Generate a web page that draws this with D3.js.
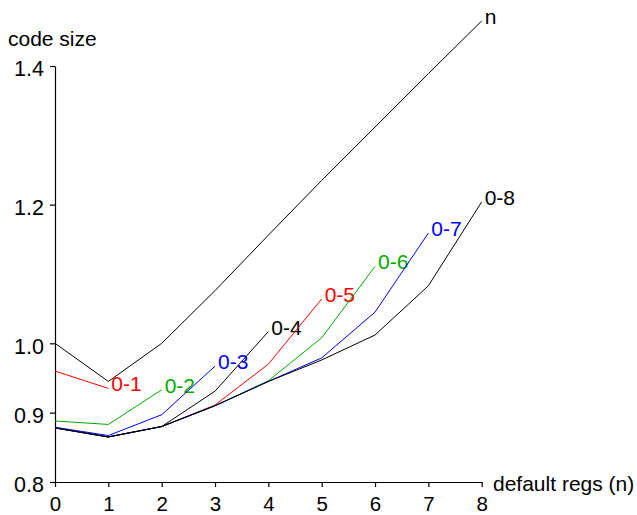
<!DOCTYPE html>
<html>
<head>
<meta charset="utf-8">
<script src="https://cdn.jsdelivr.net/npm/d3@7"></script>
<style>
  body { margin: 0; background: #fff; }
  svg { font-family: "Liberation Sans", Arial, sans-serif; }
  .axis path, .axis line { stroke: #000; stroke-width: 1.2; }
  .axis text { fill: #000; }
</style>
</head>
<body>
<div id="chart"></div>
<script>
// data
var regs = [0, 1, 2, 3, 4, 5, 6, 7, 8];
var yTicks = [0.8, 0.9, 1.0, 1.2, 1.4];

var sN  = [1.000, 0.945, 1.000, 1.076, 1.156, 1.235, 1.312, 1.389, 1.465];
var s01 = [0.960, 0.935];
var s02 = [0.888, 0.883, 0.933];
var s03 = [0.879, 0.867, 0.897, 0.967];
var s04 = [0.878, 0.865, 0.880, 0.931, 1.017];
var s05 = [0.878, 0.865, 0.880, 0.911, 0.970, 1.064];
var s06 = [0.878, 0.865, 0.880, 0.910, 0.946, 1.008, 1.111];
var s07 = [0.878, 0.865, 0.880, 0.910, 0.945, 0.979, 1.045, 1.159];
var s08 = [0.878, 0.865, 0.880, 0.910, 0.945, 0.976, 1.012, 1.083, 1.204];

var seriesNames = ["n", "0-1", "0-2", "0-3", "0-4", "0-5", "0-6", "0-7", "0-8"];
var seriesVals = [sN, s01, s02, s03, s04, s05, s06, s07, s08];
var seriesColors = ["#000", "#ff0000", "#00aa00", "#0000ff", "#000", "#ff0000", "#00aa00", "#0000ff", "#000"];

var width = 637;
var height = 515;

var svg = d3
  .select("#chart")
  .append("svg")
  .attr("width", width)
  .attr("height", height);

var xScale = d3.scaleLinear().domain([0, 8]).range([55, 481.7]);
var yScale = d3.scaleLinear().domain([0.8, 1.4]).range([482, 66]);

var xAxis = d3.axisBottom(xScale)
  .tickValues(regs)
  .tickFormat(d3.format("d"))
  .tickSize(5)
  .tickSizeOuter(0)
  .tickPadding(9);

var yAxis = d3.axisLeft(yScale)
  .tickValues(yTicks)
  .tickFormat(d3.format(".1f"))
  .tickSize(5)
  .tickSizeOuter(0)
  .tickPadding(6);

var gx = svg
  .append("g")
  .attr("class", "axis")
  .attr("transform", "translate(0,482)")
  .call(xAxis);
gx.selectAll("text").attr("font-size", 20.5).attr("dy", "0.72em");

var gy = svg
  .append("g")
  .attr("class", "axis")
  .attr("transform", "translate(55,0)")
  .call(yAxis);
gy.selectAll("text").attr("font-size", 21.5).attr("dy", "0.45em");

// axis titles
svg.append("text")
  .attr("x", 8)
  .attr("y", 46)
  .attr("font-size", 21)
  .text("code size");

svg.append("text")
  .attr("x", 493)
  .attr("y", 491)
  .attr("font-size", 21)
  .text("default regs (n)");

var line = d3.line()
  .x(function(d, i) { return xScale(regs[i]); })
  .y(function(d) { return yScale(d); });

seriesVals.forEach(function(vals, k) {
  svg.append("path")
    .datum(vals)
    .attr("d", line)
    .attr("fill", "none")
    .attr("stroke", seriesColors[k])
    .attr("stroke-width", 1);

  var last = vals.length - 1;
  svg.append("text")
    .attr("x", xScale(regs[last]) + 3)
    .attr("y", yScale(vals[last]) + 3)
    .attr("font-size", 21)
    .attr("fill", seriesColors[k])
    .text(seriesNames[k]);
});
</script>
</body>
</html>
